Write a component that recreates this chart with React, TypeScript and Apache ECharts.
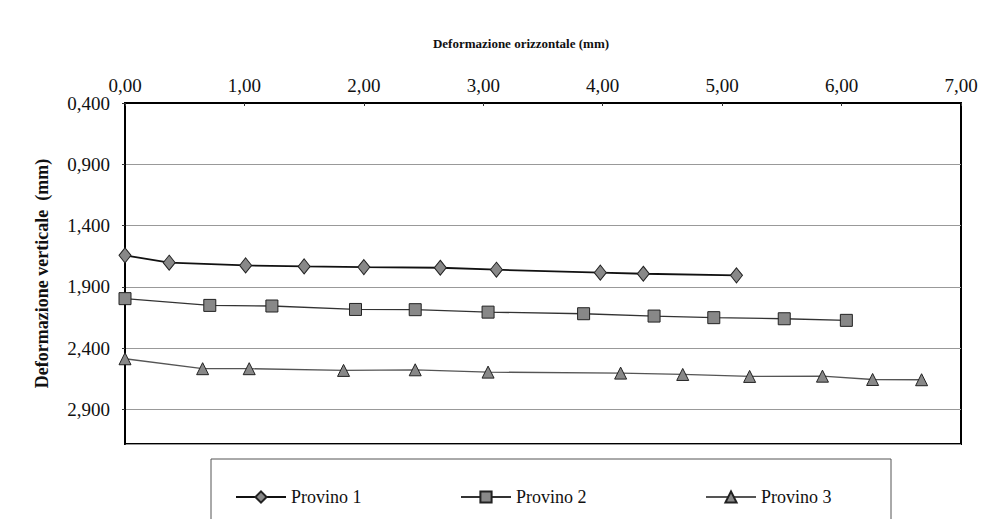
import React, { useEffect, useRef } from 'react';
import * as echarts from 'echarts';

// Data
const seriesNames = ['Provino 1', 'Provino 2', 'Provino 3'];

const p1X = [0.0, 0.37, 1.01, 1.5, 2.0, 2.64, 3.11, 3.98, 4.34, 5.12];
const p1Y = [1.642, 1.702, 1.724, 1.732, 1.738, 1.743, 1.759, 1.783, 1.792, 1.805];

const p2X = [0.0, 0.71, 1.23, 1.93, 2.43, 3.04, 3.84, 4.43, 4.93, 5.52, 6.04];
const p2Y = [1.995, 2.05, 2.055, 2.083, 2.085, 2.105, 2.118, 2.137, 2.15, 2.159, 2.172];

const p3X = [0.0, 0.65, 1.04, 1.83, 2.43, 3.04, 4.15, 4.67, 5.23, 5.84, 6.26, 6.67];
const p3Y = [2.485, 2.566, 2.566, 2.58, 2.575, 2.594, 2.602, 2.613, 2.629, 2.627, 2.654, 2.656];

// Axis settings (vertical axis starts at 0,400 and steps by 0,500)
const yStart = 0.4;
const yEnd = 3.18;
const yStep = 0.5;
const xMin = 0;
const xMax = 7;
const xStep = 1;

const FONT = 'Liberation Serif';

const toPairs = (xs: number[], ys: number[]) => xs.map((x, i) => [x, ys[i] - yStart]);

export default function App() {
  const ref = useRef<HTMLDivElement>(null);

  useEffect(() => {
    if (!ref.current) return;
    const chart = echarts.init(ref.current, null, { renderer: 'svg' });

    const markerStyle = { color: '#888', borderColor: '#222', borderWidth: 1 };

    const legendCommon = {
      top: 483,
      itemWidth: 50,
      itemHeight: 14,
      textStyle: { fontFamily: FONT, fontSize: 18, color: '#111' },
      itemGap: 4,
    };

    chart.setOption({
      animation: false,
      backgroundColor: '#fff',
      textStyle: { fontFamily: FONT },
      grid: {
        left: 125,
        right: 21,
        top: 103,
        bottom: 75,
        show: true,
        borderColor: '#000',
        borderWidth: 2,
        containLabel: false,
      },
      xAxis: {
        type: 'value',
        position: 'top',
        min: xMin,
        max: xMax,
        interval: xStep,
        axisLine: { show: true, lineStyle: { color: '#000', width: 2 } },
        axisTick: { show: true, inside: true, length: 3, lineStyle: { color: '#333' } },
        splitLine: { show: false },
        axisLabel: {
          margin: 8,
          fontFamily: FONT,
          fontSize: 19,
          color: '#111',
          formatter: (v: number) => v.toFixed(2).replace('.', ','),
        },
      },
      yAxis: {
        type: 'value',
        inverse: true,
        min: 0,
        max: yEnd - yStart,
        interval: yStep,
        name: 'Deformazione verticale  (mm)',
        nameLocation: 'middle',
        nameGap: 74,
        nameTextStyle: { fontFamily: FONT, fontSize: 18, fontWeight: 'bold', color: '#111' },
        axisLine: { show: true, lineStyle: { color: '#000', width: 2 } },
        axisTick: { show: true, length: 3, lineStyle: { color: '#333' } },
        splitLine: { show: true, lineStyle: { color: '#999', width: 1 } },
        axisLabel: {
          margin: 15,
          fontFamily: FONT,
          fontSize: 19,
          color: '#111',
          showMaxLabel: false,
          formatter: (v: number) =>
            v > yEnd - yStart - 0.1 ? '' : (v + yStart).toFixed(3).replace('.', ','),
        },
      },
      legend: [
        { ...legendCommon, left: 230, data: [seriesNames[0]] },
        { ...legendCommon, left: 455, data: [seriesNames[1]] },
        { ...legendCommon, left: 700, data: [seriesNames[2]] },
      ],
      graphic: [
        {
          type: 'text',
          x: 521,
          y: 43,
          style: {
            text: 'Deformazione orizzontale (mm)',
            fontFamily: FONT,
            fontSize: 13,
            fontWeight: 'bold',
            fill: '#111',
            textAlign: 'center',
            textVerticalAlign: 'middle',
          },
        },
        {
          type: 'rect',
          shape: { x: 211, y: 459, width: 680, height: 90 },
          style: { fill: 'none', stroke: '#555', lineWidth: 1 },
          silent: true,
        },
      ],
      series: [
        {
          name: seriesNames[0],
          type: 'line',
          data: toPairs(p1X, p1Y),
          symbol: 'diamond',
          symbolSize: [12, 15],
          lineStyle: { color: '#111', width: 1.8 },
          itemStyle: markerStyle,
          color: '#111',
        },
        {
          name: seriesNames[1],
          type: 'line',
          data: toPairs(p2X, p2Y),
          symbol: 'rect',
          symbolSize: 12,
          lineStyle: { color: '#333', width: 1.3 },
          itemStyle: markerStyle,
          color: '#333',
        },
        {
          name: seriesNames[2],
          type: 'line',
          data: toPairs(p3X, p3Y),
          symbol: 'triangle',
          symbolSize: 12,
          lineStyle: { color: '#555', width: 1.3 },
          itemStyle: markerStyle,
          color: '#555',
        },
      ],
    });

    return () => chart.dispose();
  }, []);

  return (
    <div
      ref={ref}
      style={{ position: 'absolute', left: 0, top: 0, width: 982, height: 519 }}
    />
  );
}
